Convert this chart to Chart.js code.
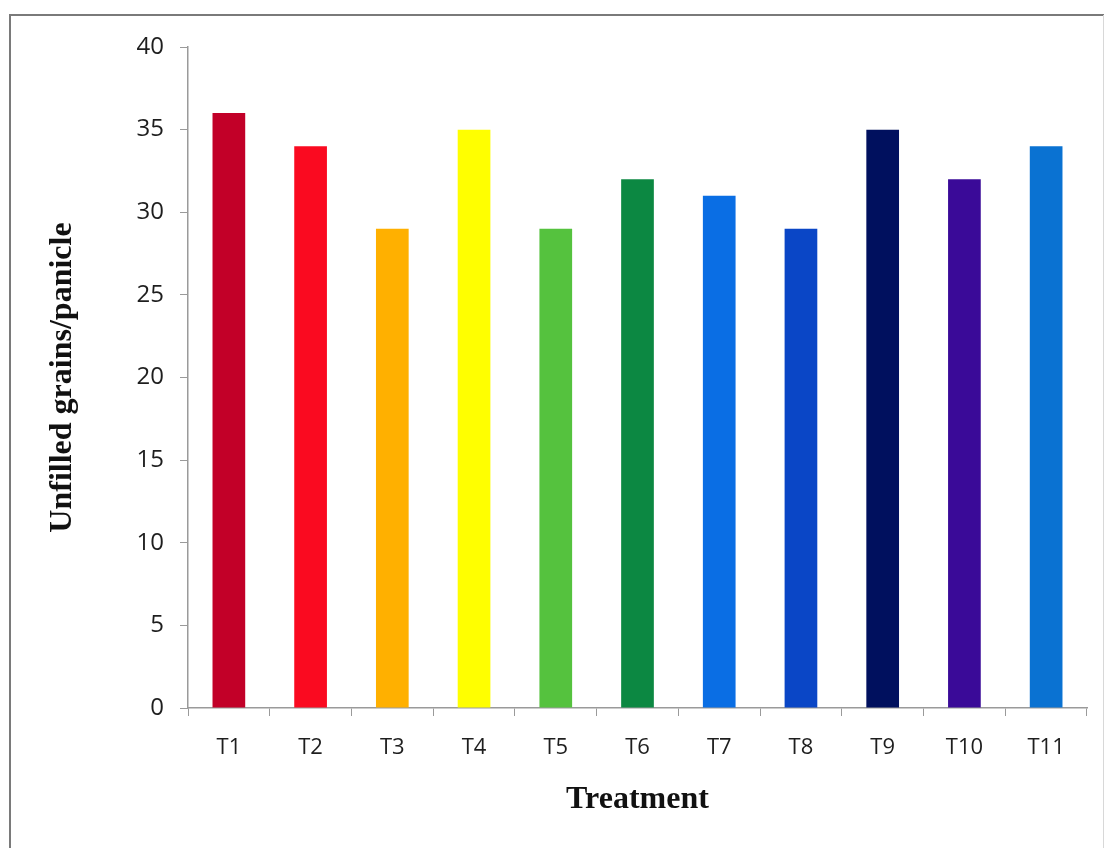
<!DOCTYPE html>
<html>
<head>
<meta charset="utf-8">
<script src="https://cdn.jsdelivr.net/npm/chart.js@4/dist/chart.umd.min.js"></script>
<style>
  html, body { margin: 0; padding: 0; background: #ffffff; }
  #wrap { position: relative; width: 1106px; height: 848px; }
</style>
</head>
<body>
<div id="wrap"><canvas id="chart" width="1106" height="848"></canvas></div>
<script>
// Treatments and unfilled grains per panicle
const treatments = ['T1', 'T2', 'T3', 'T4', 'T5', 'T6', 'T7', 'T8', 'T9', 'T10', 'T11'];
const unfilledGrains = [36, 34, 29, 35, 29, 32, 31, 29, 35, 32, 34];
const barColors = ['#C20028', '#FA0A20', '#FFB000', '#FFFF00', '#55C23E', '#0C8842',
                   '#0A6EE4', '#0A46C6', '#00105E', '#3A0A98', '#0A72D2'];
const yTicks = [0, 5, 10, 15, 20, 25, 30, 35, 40];

// Outer frame around the whole figure
const framePlugin = {
  id: 'frame',
  beforeDraw(chart) {
    const ctx = chart.ctx;
    ctx.save();
    ctx.strokeStyle = '#7a7a7a';
    ctx.lineWidth = 2;
    ctx.beginPath();
    ctx.moveTo(10, 860);
    ctx.lineTo(10, 15);
    ctx.lineTo(1104, 15);
    ctx.stroke();
    ctx.strokeStyle = '#d8d8d8';
    ctx.lineWidth = 1;
    ctx.beginPath();
    ctx.moveTo(1103.5, 15);
    ctx.lineTo(1103.5, 860);
    ctx.stroke();
    ctx.restore();
  }
};

const axisGray = '#9a9a9a';

new Chart(document.getElementById('chart'), {
  type: 'bar',
  data: {
    labels: treatments,
    datasets: [{
      data: unfilledGrains,
      backgroundColor: barColors,
      borderWidth: 0,
      barPercentage: 0.4,
      categoryPercentage: 1.0
    }]
  },
  options: {
    responsive: false,
    animation: false,
    devicePixelRatio: 1,
    layout: { padding: { left: 0, top: 47, right: 19, bottom: 0 } },
    plugins: {
      legend: { display: false },
      tooltip: { enabled: false }
    },
    scales: {
      x: {
        offset: true,
        afterFit(scale) { scale.height = 140; },
        border: { display: true, color: axisGray, width: 1.5 },
        grid: {
          display: true,
          offset: true,
          drawOnChartArea: false,
          drawTicks: true,
          tickLength: 8,
          color: axisGray
        },
        ticks: {
          color: '#1e1e1e',
          padding: 19,
          maxRotation: 0,
          font: { family: 'Open Sans', size: 22, weight: '500' }
        },
        title: {
          display: true,
          text: 'Treatment',
          color: '#111111',
          padding: { top: 0, bottom: 29 },
          font: { family: 'Liberation Serif', size: 32, weight: 'bold' }
        }
      },
      y: {
        min: 0,
        max: 40,
        afterFit(scale) { scale.width = 188; },
        afterBuildTicks(scale) { scale.ticks = yTicks.map(v => ({ value: v })); },
        border: { display: true, color: axisGray, width: 1.5 },
        grid: {
          display: true,
          drawOnChartArea: false,
          drawTicks: true,
          tickLength: 8,
          color: axisGray
        },
        ticks: {
          color: '#1e1e1e',
          padding: 16,
          font: { family: 'Open Sans', size: 24, weight: '500' }
        },
        title: {
          display: true,
          text: 'Unfilled grains/panicle',
          color: '#111111',
          padding: { top: 44, bottom: 0 },
          font: { family: 'Liberation Serif', size: 32, weight: 'bold' }
        }
      }
    }
  },
  plugins: [framePlugin]
});
</script>
</body>
</html>
